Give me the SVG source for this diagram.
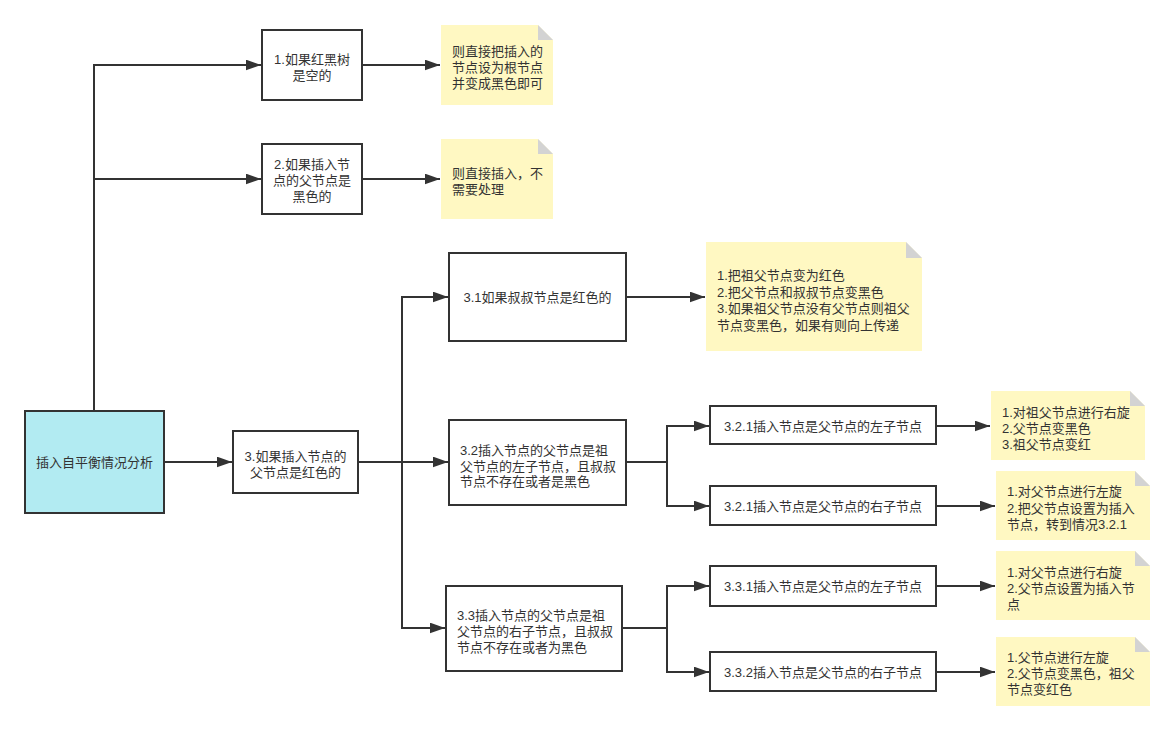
<svg xmlns="http://www.w3.org/2000/svg" width="1175" height="730" viewBox="0 0 1175 730">
<defs>
<style>
.box{fill:#ffffff;stroke:#333333;stroke-width:2}
.root{fill:#b2ebf2;stroke:#333333;stroke-width:2}
.note{fill:#fff8c2;stroke:none}
.fold{fill:#d3d3d3}
.ln{fill:none;stroke:#333333;stroke-width:2}
text{font-family:"Liberation Sans","Noto Sans CJK SC",sans-serif;font-size:13px;fill:#333333;dominant-baseline:central}
.c{text-anchor:middle}
</style>
<marker id="ah" markerUnits="userSpaceOnUse" markerWidth="15" markerHeight="11" refX="14" refY="5" orient="auto" viewBox="0 0 14 10">
<path d="M0,0 L14,5 L0,10 z" fill="#333333"/>
</marker>
</defs>
<rect width="1175" height="730" fill="#ffffff"/>
<g id="connectors">
<path class="ln" d="M94,411 V65 H261" marker-end="url(#ah)"/>
<path class="ln" d="M94,179 H261" marker-end="url(#ah)"/>
<path class="ln" d="M362,65 H440" marker-end="url(#ah)"/>
<path class="ln" d="M362,179 H440" marker-end="url(#ah)"/>
<path class="ln" d="M164,462 H232" marker-end="url(#ah)"/>
<path class="ln" d="M358,462 H448" marker-end="url(#ah)"/>
<path class="ln" d="M402,462 V297 H448" marker-end="url(#ah)"/>
<path class="ln" d="M402,462 V628 H445" marker-end="url(#ah)"/>
<path class="ln" d="M626,297 H705" marker-end="url(#ah)"/>
<path class="ln" d="M626,462 H667 V426 H709" marker-end="url(#ah)"/>
<path class="ln" d="M667,462 V506 H709" marker-end="url(#ah)"/>
<path class="ln" d="M936,426 H990" marker-end="url(#ah)"/>
<path class="ln" d="M936,506 H995" marker-end="url(#ah)"/>
<path class="ln" d="M622,628 H667 V586 H709" marker-end="url(#ah)"/>
<path class="ln" d="M667,628 V672 H709" marker-end="url(#ah)"/>
<path class="ln" d="M936,586 H995" marker-end="url(#ah)"/>
<path class="ln" d="M936,672 H995" marker-end="url(#ah)"/>
</g>
<g id="root">
<rect class="root" x="25" y="411" width="139" height="102"/>
<text class="c" x="94.5" y="462">插入自平衡情况分析</text>
</g>
<g id="n1">
<rect class="box" x="262" y="30" width="100" height="70"/>
<text class="c" x="312" y="59">1.如果红黑树</text>
<text class="c" x="312" y="75">是空的</text>
</g>
<g id="n2">
<rect class="box" x="262" y="144" width="100" height="70"/>
<text class="c" x="312" y="164">2.如果插入节</text>
<text class="c" x="312" y="180">点的父节点是</text>
<text class="c" x="312" y="196">黑色的</text>
</g>
<g id="note1">
<path class="note" d="M441,25 H538 L553,40 V105 H441 Z"/>
<path class="fold" d="M538,25 L553,40 H538 Z"/>
<text x="452" y="51">则直接把插入的</text>
<text x="452" y="67">节点设为根节点</text>
<text x="452" y="83">并变成黑色即可</text>
</g>
<g id="note2">
<path class="note" d="M441,139 H538 L553,154 V219 H441 Z"/>
<path class="fold" d="M538,139 L553,154 H538 Z"/>
<text x="452" y="173">则直接插入，不</text>
<text x="452" y="189">需要处理</text>
</g>
<g id="n3">
<rect class="box" x="233" y="431" width="125" height="62"/>
<text class="c" x="295.5" y="456">3.如果插入节点的</text>
<text class="c" x="295.5" y="472">父节点是红色的</text>
</g>
<g id="n31">
<rect class="box" x="449" y="253" width="177" height="88"/>
<text class="c" x="537.5" y="297">3.1如果叔叔节点是红色的</text>
</g>
<g id="note31">
<path class="note" d="M706,242 H906 L922,258 V351 H706 Z"/>
<path class="fold" d="M906,242 L922,258 H906 Z"/>
<text x="717" y="275">1.把祖父节点变为红色</text>
<text x="717" y="292">2.把父节点和叔叔节点变黑色</text>
<text x="717" y="308">3.如果祖父节点没有父节点则祖父</text>
<text x="717" y="325">节点变黑色，如果有则向上传递</text>
</g>
<g id="n32">
<rect class="box" x="449" y="420" width="177" height="85"/>
<text x="460" y="450">3.2插入节点的父节点是祖</text>
<text x="460" y="466">父节点的左子节点，且叔叔</text>
<text x="460" y="481">节点不存在或者是黑色</text>
</g>
<g id="n321l">
<rect class="box" x="710" y="406" width="226" height="38"/>
<text class="c" x="823" y="426">3.2.1插入节点是父节点的左子节点</text>
</g>
<g id="n321r">
<rect class="box" x="710" y="486" width="226" height="39"/>
<text class="c" x="823" y="506">3.2.1插入节点是父节点的右子节点</text>
</g>
<g id="note321l">
<path class="note" d="M991,391 H1130 L1145,406 V460 H991 Z"/>
<path class="fold" d="M1130,391 L1145,406 H1130 Z"/>
<text x="1002" y="412">1.对祖父节点进行右旋</text>
<text x="1002" y="428">2.父节点变黑色</text>
<text x="1002" y="444">3.祖父节点变红</text>
</g>
<g id="note321r">
<path class="note" d="M996,471 H1135 L1150,486 V540 H996 Z"/>
<path class="fold" d="M1135,471 L1150,486 H1135 Z"/>
<text x="1007" y="491">1.对父节点进行左旋</text>
<text x="1007" y="508">2.把父节点设置为插入</text>
<text x="1007" y="524">节点，转到情况3.2.1</text>
</g>
<g id="n33">
<rect class="box" x="446" y="586" width="176" height="85"/>
<text x="457" y="615">3.3插入节点的父节点是祖</text>
<text x="457" y="631">父节点的右子节点，且叔叔</text>
<text x="457" y="647">节点不存在或者为黑色</text>
</g>
<g id="n331">
<rect class="box" x="710" y="566" width="226" height="40"/>
<text class="c" x="823" y="586">3.3.1插入节点是父节点的左子节点</text>
</g>
<g id="n332">
<rect class="box" x="710" y="652" width="226" height="39"/>
<text class="c" x="823" y="672">3.3.2插入节点是父节点的右子节点</text>
</g>
<g id="note331">
<path class="note" d="M996,551 H1135 L1150,566 V620 H996 Z"/>
<path class="fold" d="M1135,551 L1150,566 H1135 Z"/>
<text x="1007" y="572">1.对父节点进行右旋</text>
<text x="1007" y="588">2.父节点设置为插入节</text>
<text x="1007" y="604">点</text>
</g>
<g id="note332">
<path class="note" d="M996,637 H1135 L1150,652 V706 H996 Z"/>
<path class="fold" d="M1135,637 L1150,652 H1135 Z"/>
<text x="1007" y="657">1.父节点进行左旋</text>
<text x="1007" y="673">2.父节点变黑色，祖父</text>
<text x="1007" y="689">节点变红色</text>
</g>
</svg>
